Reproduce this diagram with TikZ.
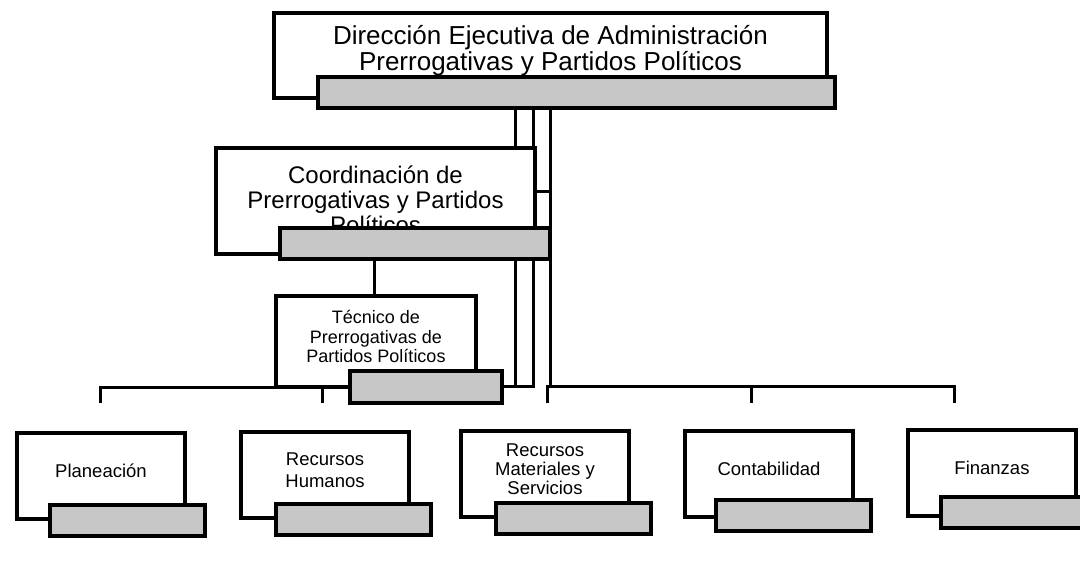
\documentclass[tikz,border=0pt]{standalone}
\usepackage{fontspec}
\setmainfont{Liberation Sans}
\usetikzlibrary{positioning}
\tikzstyle{office} = [rectangle, draw=black, line width=3.5pt, fill=white, inner sep=0pt, outer sep=0pt, anchor=north west]
\tikzstyle{bar} = [rectangle, draw=black, line width=3.5pt, fill=black!22, inner sep=0pt, outer sep=0pt, anchor=north west, minimum height=31pt, minimum width=155pt]
\tikzstyle{unit} = [office, minimum width=168pt, minimum height=86pt]
\tikzstyle{caption} = [align=center, inner sep=0pt, yshift=5pt, font=\fontsize{18.5}{20.5}\selectfont]
\tikzstyle{link} = [line width=3pt]

\begin{document}
\begin{tikzpicture}[x=1pt, y=-1pt]
\useasboundingbox (0,0) rectangle (1080,588);
\node (dir) [office, minimum width=553pt, minimum height=85pt] at (274,13) {};
\node (dirtxt) [caption, font=\fontsize{26}{26}\selectfont] at (dir.center) {Dirección Ejecutiva de Administración\\Prerrogativas y Partidos Políticos};
\node (dirbar) [bar, minimum width=517pt] at (318,77) {};
\node (coord) [office, minimum width=319pt, minimum height=106pt] at (216,148) {};
\node (coordtxt) [caption, yshift=-4pt, font=\fontsize{24}{25}\selectfont] at (coord.center) {Coordinación de\\Prerrogativas y Partidos\\Políticos};
\node (coordbar) [bar, minimum width=270pt] at (280,228) {};
\node (tec) [office, minimum width=200pt, minimum height=91pt] at (276,296) {};
\node (tectxt) [caption, font=\fontsize{18}{19.5}\selectfont] at (tec.center) {Técnico de\\Prerrogativas de\\Partidos Políticos};
\node (tecbar) [bar, minimum width=152pt, minimum height=32pt] at (350,371) {};
\node (plan) [unit] at (17,433) {};
\node (plantxt) [caption] at (plan.center) {Planeación};
\node (planbar) [bar] at (50,505) {};
\node (rh) [unit] at (241,432) {};
\node (rhtxt) [caption, font=\fontsize{18.5}{22}\selectfont] at (rh.center) {Recursos\\Humanos};
\node (rhbar) [bar] at (276,504) {};
\node (rm) [unit] at (461,431) {};
\node (rmtxt) [caption, font=\fontsize{18.5}{19}\selectfont] at (rm.center) {Recursos\\Materiales y\\Servicios};
\node (rmbar) [bar] at (496,503) {};
\node (cont) [unit] at (685,431) {};
\node (conttxt) [caption] at (cont.center) {Contabilidad};
\node (contbar) [bar] at (716,500) {};
\node (fin) [unit] at (908,430) {};
\node (fintxt) [caption] at (fin.center) {Finanzas};
\node (finbar) [bar] at (941,497) {};
% free ends of the bus stubs
\coordinate (planstub) at (100,403);
\coordinate (rhstub) at (322,403);
\coordinate (rmstub) at (547,403);
\coordinate (contstub) at (751,403);
\coordinate (finstub) at (954,403);

\draw [link] (515,0 |- dirbar.south) -- (515,0 |- coord.north);
\draw [link] (533,0 |- dirbar.south) -- (533,0 |- coord.north);
\draw [link] (550,0 |- dirbar.south) -- (550,386);
\draw [link] (coord.east |- 0,192) -- (550,192);
\draw [link] (515,0 |- coordbar.south) -- (515,386);
\draw [link] (533,0 |- coordbar.south) -- (533,386) -- (tecbar.east |- 0,386);
\draw [link] (374,0 |- coordbar.south) -- (tec.north -| 374,0);
% buses to the units
\draw [link] (planstub) |- (tec.south west);
\draw [link] (rhstub) -- (rhstub |- tec.south);
\draw [link] (rmstub) |- (550,386) -| (finstub);
\draw [link] (contstub) -- (contstub |- 0,386);
\end{tikzpicture}
\end{document}
